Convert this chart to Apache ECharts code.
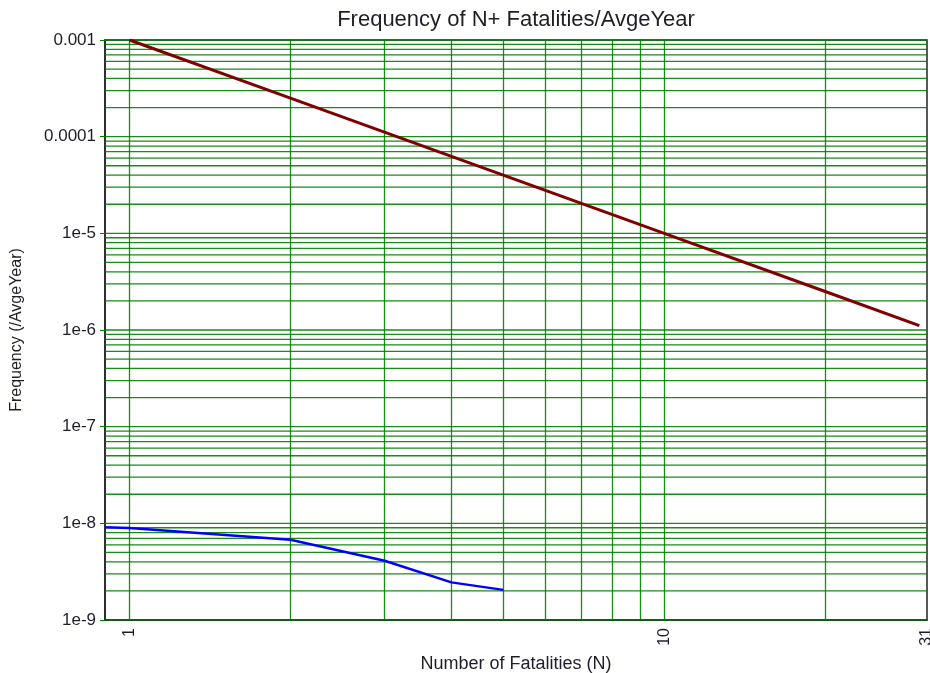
<!DOCTYPE html>
<html>
<head>
<meta charset="utf-8">
<script src="https://cdn.jsdelivr.net/npm/echarts@6/dist/echarts.min.js"></script>
<style>html,body{margin:0;padding:0;background:#fff}#c{width:930px;height:673px}</style>
</head>
<body>
<div id="c"></div>
<script>
// Data
var titleText = 'Frequency of N+ Fatalities/AvgeYear';
var xName = 'Number of Fatalities (N)';
var yName = 'Frequency (/AvgeYear)';

var criterionN = [1, 2, 5, 10, 20, 30];
var criterionF = [1e-3, 2.5e-4, 4e-5, 1e-5, 2.5e-6, 1.11e-6];

var resultN = [0.9, 1, 2, 3, 4, 5];
var resultF = [9.1e-9, 8.95e-9, 6.75e-9, 4.1e-9, 2.45e-9, 2.05e-9];

var xMin = 0.9, xMax = 31;
var yMin = 1e-9, yMax = 1e-3;
var xLabelValues = [1, 10, 31];
var xGridValues = [1, 2, 3, 4, 5, 6, 7, 8, 9, 10, 20];
var yLabelMap = { '-3': '0.001', '-4': '0.0001', '-5': '1e-5', '-6': '1e-6', '-7': '1e-7', '-8': '1e-8', '-9': '1e-9' };
var yDecades = [-9, -8, -7, -6, -5, -4];
var yMultipliers = [1, 2, 3, 4, 5, 6, 7, 8, 9];

var yGridValues = [];
yDecades.forEach(function (d) {
  yMultipliers.forEach(function (m) { yGridValues.push(m * Math.pow(10, d)); });
});
yGridValues.push(yMax);

function pairs(xs, ys) { return xs.map(function (x, i) { return [x, ys[i]]; }); }

// horizontal grid lines as broken polyline across the x extent
var hGridData = [];
yGridValues.forEach(function (v) {
  hGridData.push([xMin, v], [xMax, v], ['-', '-']);
});

var gridGreen = '#008000';
var textColor = '#1e1e2a';
var font = 'Liberation Sans, Arial, sans-serif';

var chart = echarts.init(document.getElementById('c'), null, { renderer: 'canvas' });
chart.setOption({
  animation: false,
  backgroundColor: '#fff',
  title: {
    text: titleText, left: 516, textAlign: 'center', top: 9, padding: 0,
    textStyle: { fontFamily: font, fontSize: 22, fontWeight: 'normal', color: textColor }
  },
  grid: {
    left: 105, right: 3, top: 40, bottom: 53, show: true,
    borderColor: '#222', borderWidth: 1.5, backgroundColor: '#fff',
    outerBoundsMode: 'none', containLabel: false
  },
  xAxis: {
    type: 'log', logBase: 10, min: xMin, max: xMax,
    name: xName, nameLocation: 'middle', nameGap: 35,
    nameTextStyle: { fontFamily: font, fontSize: 18, color: textColor },
    axisLine: { show: true, onZero: false, lineStyle: { color: '#222', width: 1.5 } },
    axisTick: { show: false },
    splitLine: { show: false },
    axisLabel: {
      rotate: 90, margin: 8, fontFamily: font, fontSize: 16, color: textColor, showMinLabel: true, showMaxLabel: true,
      formatter: function (v) {
        for (var i = 0; i < xLabelValues.length; i++) {
          if (Math.abs(v - xLabelValues[i]) < 1e-6 * xLabelValues[i]) return String(xLabelValues[i]);
        }
        return '';
      }
    }
  },
  yAxis: {
    type: 'log', logBase: 10, min: yMin, max: yMax,
    name: yName, nameLocation: 'middle', nameGap: 80, nameRotate: 90,
    nameTextStyle: { fontFamily: font, fontSize: 16, color: textColor },
    axisLine: { show: true, lineStyle: { color: '#222', width: 1.5 } },
    axisTick: { show: true, length: 5, lineStyle: { color: gridGreen } },
    splitLine: { show: false },
    axisLabel: {
      margin: 9, fontFamily: font, fontSize: 17, color: textColor,
      formatter: function (v) {
        var k = String(Math.round(Math.log(v) / Math.LN10));
        return yLabelMap[k] || '';
      }
    }
  },
  series: [
    {
      type: 'line', data: hGridData, z: 1, silent: true, connectNulls: false,
      showSymbol: false, symbol: 'none',
      lineStyle: { color: gridGreen, width: 1.3, opacity: 0.9 },
      markLine: {
        silent: true, symbol: ['none', 'none'], animation: false,
        label: { show: false },
        lineStyle: { color: gridGreen, type: 'solid', width: 1.3, opacity: 0.9 },
        data: xGridValues.map(function (v) { return { xAxis: v }; })
      }
    },
    {
      name: 'Criterion', type: 'line', data: pairs(criterionN, criterionF), z: 5,
      showSymbol: false, symbol: 'none', lineStyle: { color: '#800000', width: 3 }
    },
    {
      name: 'Result', type: 'line', data: pairs(resultN, resultF), z: 5,
      showSymbol: false, symbol: 'none', lineStyle: { color: '#0000ff', width: 2.5 }
    }
  ]
});
</script>
</body>
</html>
